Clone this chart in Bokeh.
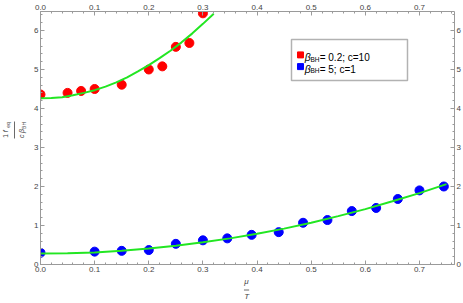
import math
from bokeh.plotting import figure
from bokeh.layouts import row, column
from bokeh.models import (LinearAxis, Label, BoxAnnotation, FixedTicker, Range1d,
                          PrintfTickFormatter)
from bokeh.embed import file_html
from bokeh.resources import INLINE

# ---- data ----
red_mu = [0.0, 0.05, 0.075, 0.10, 0.15, 0.20, 0.225, 0.25, 0.275, 0.30]
red_val = [4.36, 4.40, 4.45, 4.50, 4.61, 5.00, 5.08, 5.58, 5.68, 6.44]

blue_mu = [0.0, 0.10, 0.15, 0.20, 0.25, 0.30, 0.345, 0.39, 0.44, 0.485,
           0.53, 0.575, 0.62, 0.66, 0.70, 0.745]
blue_val = [0.30, 0.33, 0.35, 0.37, 0.53, 0.62, 0.67, 0.76, 0.83, 1.07,
            1.14, 1.37, 1.45, 1.68, 1.90, 2.00]

red_fit_mu = [0.0, 0.02, 0.04, 0.06, 0.08, 0.10, 0.12, 0.14, 0.16, 0.18,
              0.20, 0.22, 0.24, 0.26, 0.28, 0.30, 0.32]
red_fit_val = [4.26, 4.27, 4.29, 4.34, 4.40, 4.47, 4.56, 4.67, 4.80, 4.95,
               5.11, 5.29, 5.48, 5.69, 5.92, 6.17, 6.43]

blue_fit_mu = [0.0, 0.05, 0.10, 0.15, 0.20, 0.25, 0.30, 0.35, 0.40, 0.45,
               0.50, 0.55, 0.60, 0.65, 0.70, 0.75]
blue_fit_val = [0.28, 0.29, 0.31, 0.35, 0.41, 0.48, 0.57, 0.67, 0.79, 0.92,
                1.07, 1.24, 1.42, 1.62, 1.83, 2.06]

x_ticks = [0.0, 0.1, 0.2, 0.3, 0.4, 0.5, 0.6, 0.7]
y_ticks = [0, 1, 2, 3, 4, 5, 6]
x_minor = [i * 0.02 for i in range(39)]
y_minor = [i * 0.2 for i in range(33)]

legend_labels = ["= 0.2; c=10", "= 5; c=1"]
legend_colors = ["#ff0000", "#0000ff"]

AX = "#9a9a9a"
TXT = "#444444"
FONT = "Liberation Sans"

def bare(fig):
    fig.grid.visible = False
    fig.outline_line_color = None
    fig.background_fill_color = "white"
    fig.border_fill_color = "white"
    return fig

# ---------------- main plot ----------------
p = bare(figure(width=433, height=276, output_backend="svg", toolbar_location=None,
                x_range=Range1d(0, 0.7647), y_range=Range1d(0, 6.487),
                x_axis_location=None, y_axis_location=None,
                min_border_left=10, min_border_right=9, min_border_top=11,
                min_border_bottom=12))

def mk_axis(ticks, minor, fmt):
    ax = LinearAxis(ticker=FixedTicker(ticks=ticks, minor_ticks=minor),
                    formatter=PrintfTickFormatter(format=fmt))
    ax.axis_line_color = AX
    ax.major_tick_line_color = AX
    ax.minor_tick_line_color = AX
    ax.major_tick_in = 4
    ax.major_tick_out = 0
    ax.minor_tick_in = 2
    ax.minor_tick_out = 0
    ax.major_label_text_font = FONT
    ax.major_label_text_font_size = "8px"
    ax.major_label_text_color = TXT
    ax.major_label_standoff = 2
    return ax

for loc, t, m, f in [("below", x_ticks, x_minor, "%.1f"), ("above", x_ticks, x_minor, "%.1f"),
                     ("left", y_ticks, y_minor, "%d"), ("right", y_ticks, y_minor, "%d")]:
    p.add_layout(mk_axis(t, m, f), loc)

p.scatter(red_mu, red_val, size=9, color="#ff0000")
p.scatter(blue_mu, blue_val, size=9, color="#0000ff")
p.line(red_fit_mu, red_fit_val, line_color="#22e622", line_width=2)
p.line(blue_fit_mu, blue_fit_val, line_color="#22e622", line_width=2)

# reference pixel -> data (legend placement)
def dx(px):
    return (px - 40) / 541.4
def dy(py):
    return (264 - py) / 39.0

p.add_layout(BoxAnnotation(left=dx(291), right=dx(407), top=dy(39), bottom=dy(80),
                           fill_color="white", fill_alpha=1, line_color="black",
                           line_width=1.5, level="underlay"))
for i, (col, lab) in enumerate(zip(legend_colors, legend_labels)):
    base = 57 + i * 11.7
    p.scatter([dx(300)], [dy(base - 2.6)], marker="square", size=6, color=col)
    p.add_layout(Label(x=dx(304.3), y=dy(base), text="\u03b2", text_font=FONT,
                       text_font_style="italic", text_font_size="10.5px",
                       text_baseline="alphabetic", text_color="black"))
    p.add_layout(Label(x=dx(310.0), y=dy(base + 1.6), text="BH", text_font=FONT,
                       text_font_size="6.5px", text_baseline="alphabetic",
                       text_color="black"))
    p.add_layout(Label(x=dx(319.2), y=dy(base), text=lab, text_font=FONT,
                       text_font_size="10px", text_baseline="alphabetic",
                       text_color="black"))

# ---------------- y-axis title panel (coordinates = page pixels) ----------------
yf = bare(figure(width=30, height=303, output_backend="svg", toolbar_location=None,
                 x_range=Range1d(0, 30), y_range=Range1d(303, 0), min_border=0,
                 x_axis_location=None, y_axis_location=None))
R = math.pi / 2

def ylab(x, y, text, size, italic=True):
    yf.add_layout(Label(x=x, y=y, text=text, angle=R, text_font=FONT,
                        text_font_size=size, text_color=TXT,
                        text_font_style="italic" if italic else "normal",
                        text_align="left", text_baseline="middle"))

ylab(5.2, 137.2, "1", "6.5px", italic=False)
ylab(5.2, 131.8, "f", "7px")
ylab(7.0, 127.2, "eq", "5px", italic=False)
ylab(21.2, 137.6, "c", "7px")
ylab(21.2, 132.6, "\u03b2", "7px")
ylab(23.0, 128.4, "BH", "5px", italic=False)
yf.segment(x0=[14], y0=[121], x1=[14], y1=[138], line_color=TXT, line_width=0.8)

# ---------------- x-axis title panel (coordinates = page pixels) ----------------
xf = bare(figure(width=433, height=27, output_backend="svg", toolbar_location=None,
                 x_range=Range1d(30, 463), y_range=Range1d(303, 276), min_border=0,
                 x_axis_location=None, y_axis_location=None))
xf.add_layout(Label(x=245.4, y=281.2, text="\u03bc", text_font=FONT, text_font_size="8px",
                    text_font_style="italic", text_color=TXT, text_align="center",
                    text_baseline="middle"))
xf.add_layout(Label(x=245.6, y=296.2, text="T", text_font=FONT, text_font_size="8px",
                    text_font_style="italic", text_color=TXT, text_align="center",
                    text_baseline="middle"))
xf.segment(x0=[242.8], y0=[289.5], x1=[248.2], y1=[289.5], line_color=TXT, line_width=0.8)

layout = row(yf, column(p, xf, spacing=0), spacing=0)
open("out.html", "w").write(file_html(layout, INLINE))
